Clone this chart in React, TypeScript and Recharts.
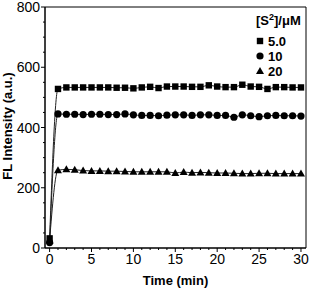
import React from "react"
import { ComposedChart, Line, XAxis, YAxis, ReferenceArea } from "recharts"

document.body.style.margin = "0"

// fluorescence vs time for three sulfide concentrations
const time = [0, 1, 2, 3, 4, 5, 6, 7, 8, 9, 10, 11, 12, 13, 14, 15, 16, 17, 18, 19, 20, 21, 22, 23, 24, 25, 26, 27, 28, 29, 30]
const s50 = [32, 528, 533, 533, 533, 533, 533, 533, 532, 532, 530, 533, 535, 531, 536, 536, 536, 535, 535, 540, 536, 534, 534, 542, 536, 535, 528, 534, 534, 533, 533]
const s10 = [18, 445, 444, 444, 443, 444, 444, 443, 443, 445, 442, 440, 440, 439, 441, 442, 442, 440, 442, 442, 440, 440, 434, 442, 439, 436, 439, 440, 439, 439, 438]
const s20 = [25, 258, 261, 260, 257, 256, 256, 255, 255, 254, 253, 253, 253, 253, 253, 249, 252, 250, 251, 250, 249, 249, 248, 247, 247, 248, 248, 247, 247, 247, 247]

const xTicks = [0, 1, 2, 3, 4, 5, 6, 7, 8, 9, 10, 11, 12, 13, 14, 15, 16, 17, 18, 19, 20, 21, 22, 23, 24, 25, 26, 27, 28, 29, 30]
const yTicks = [0, 50, 100, 150, 200, 250, 300, 350, 400, 450, 500, 550, 600, 650, 700, 750, 800]

const legendItems = [
  { label: "5.0", shape: "square" },
  { label: "10", shape: "circle" },
  { label: "20", shape: "triangle" },
]

const font = "Arial, 'Liberation Sans', sans-serif"

const toRows = (vals: number[]) => time.map((t, i) => ({ t, v: vals[i] }))

function Marker({ cx, cy, shape }: { cx: number; cy: number; shape: string }) {
  if (shape === "square") return <rect x={cx - 3.2} y={cy - 3.2} width={6.4} height={6.4} fill="#000" />
  if (shape === "circle") return <circle cx={cx} cy={cy} r={3.6} fill="#000" />
  return <polygon points={`${cx},${cy - 4} ${cx - 4},${cy + 3} ${cx + 4},${cy + 3}`} fill="#000" />
}

const dotFor = (shape: string) => (p: any) => <Marker key={p.index} cx={p.cx} cy={p.cy} shape={shape} />

const XTick = ({ x, y, payload }: any) => {
  const major = payload.value % 5 === 0
  return (
    <g>
      <line x1={x} x2={x} y1={y} y2={y + (major ? 4 : 2)} stroke="#000" />
      {major && (
        <text x={x} y={y + 16} textAnchor="middle" fontSize={14} fontFamily={font} fill="#000">
          {payload.value}
        </text>
      )}
    </g>
  )
}

const YTick = ({ x, y, payload }: any) => {
  const major = payload.value % 200 === 0
  return (
    <g>
      <line x1={x} x2={x - (major ? 4 : 2)} y1={y} y2={y} stroke="#000" />
      {major && (
        <text x={x - 5} y={y + 5} textAnchor="end" fontSize={14} fontFamily={font} fill="#000">
          {payload.value}
        </text>
      )}
    </g>
  )
}

export default function App() {
  return (
    <div style={{ position: "relative", width: 311, height: 289, background: "#fff" }}>
      <ComposedChart width={311} height={289} margin={{ top: 7, right: 5, bottom: 5, left: 0 }}>
        <XAxis
          dataKey="t"
          type="number"
          domain={[-0.55, 30.6]}
          ticks={xTicks}
          interval={0}
          tick={<XTick />}
          tickLine={false}
          tickSize={0}
          tickMargin={0}
          height={36}
          allowDataOverflow
          stroke="#000"
        />
        <YAxis
          type="number"
          domain={[0, 800]}
          ticks={yTicks}
          interval={0}
          tick={<YTick />}
          tickLine={false}
          tickSize={0}
          tickMargin={0}
          width={45}
          allowDataOverflow
          stroke="#000"
        />
        <ReferenceArea x1={-0.55} x2={30.6} y1={0} y2={800} fill="none" stroke="#000" strokeWidth={1} />
        <Line data={toRows(s50)} dataKey="v" type="monotone" stroke="#222" strokeWidth={1} dot={dotFor("square")} isAnimationActive={false} />
        <Line data={toRows(s10)} dataKey="v" type="monotone" stroke="#222" strokeWidth={1} dot={dotFor("circle")} isAnimationActive={false} />
        <Line data={toRows(s20)} dataKey="v" type="monotone" stroke="#222" strokeWidth={1} dot={dotFor("triangle")} isAnimationActive={false} />
      </ComposedChart>
      <svg width={311} height={289} style={{ position: "absolute", left: 0, top: 0, pointerEvents: "none" }}>
        <text
          transform="translate(12,126) rotate(-90)"
          textAnchor="middle"
          fontSize={13}
          fontWeight="bold"
          fontFamily={font}
        >
          FL Intensity (a.u.)
        </text>
        <text x={175.5} y={285} textAnchor="middle" fontSize={13} fontWeight="bold" fontFamily={font}>
          Time (min)
        </text>
        <text x={256} y={25} fontSize={13} fontWeight="bold" fontFamily={font}>
          [S<tspan dy={-5} fontSize={9}>2</tspan><tspan dy={5}>]/μM</tspan>
        </text>
        {legendItems.map((it, i) => (
          <g key={it.label}>
            <Marker cx={260} cy={41 + i * 15} shape={it.shape} />
            <text x={268} y={46 + i * 15} fontSize={13} fontWeight="bold" fontFamily={font}>
              {it.label}
            </text>
          </g>
        ))}
      </svg>
    </div>
  )
}
